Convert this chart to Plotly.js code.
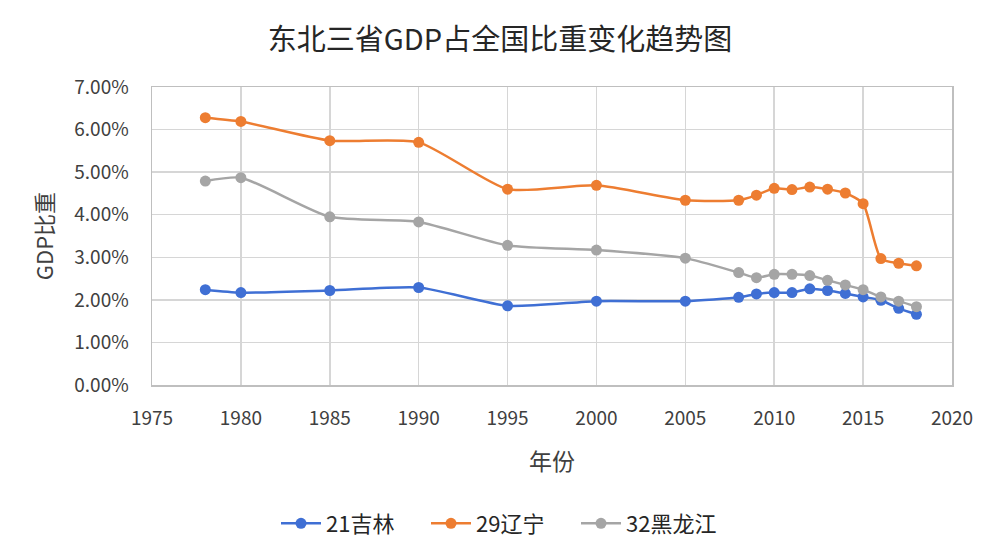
<!DOCTYPE html>
<html>
<head>
<meta charset="utf-8">
<script src="https://cdn.plot.ly/plotly-3.0.1.min.js"></script>
<style>html,body{margin:0;padding:0;background:#fff;}#chart{width:1000px;height:557px;}</style>
</head>
<body>
<div id="chart"></div>
<script>
var years = [1978, 1980, 1985, 1990, 1995, 2000, 2005, 2008, 2009, 2010, 2011, 2012, 2013, 2014, 2015, 2016, 2017, 2018];
var jilin = [2.24, 2.17, 2.22, 2.29, 1.86, 1.97, 1.97, 2.06, 2.14, 2.17, 2.17, 2.26, 2.22, 2.15, 2.07, 1.99, 1.80, 1.66];
var liaoning = [6.28, 6.19, 5.74, 5.70, 4.60, 4.69, 4.34, 4.34, 4.46, 4.62, 4.59, 4.65, 4.60, 4.51, 4.26, 2.97, 2.86, 2.80];
var heilongjiang = [4.79, 4.87, 3.95, 3.83, 3.28, 3.17, 2.98, 2.64, 2.52, 2.60, 2.60, 2.57, 2.46, 2.35, 2.24, 2.07, 1.97, 1.84];
var seriesNames = ['21吉林', '29辽宁', '32黑龙江'];
var colors = ['#3F6FD4', '#ED7D31', '#A5A5A5'];
var xTickVals = [1975, 1980, 1985, 1990, 1995, 2000, 2005, 2010, 2015, 2020];
var yTickVals = [0, 1, 2, 3, 4, 5, 6, 7];
var yTickText = ['0.00%', '1.00%', '2.00%', '3.00%', '4.00%', '5.00%', '6.00%', '7.00%'];

var font = '"Noto Sans CJK SC", "Noto Sans", sans-serif';
var data = [jilin, liaoning, heilongjiang].map(function (vals, i) {
  return {
    x: years, y: vals, name: seriesNames[i], type: 'scatter', mode: 'lines+markers',
    line: {color: colors[i], width: 2.5, shape: 'spline', smoothing: 0.6},
    marker: {color: colors[i], size: 11}
  };
});

var layout = {
  width: 1000, height: 557,
  paper_bgcolor: '#ffffff', plot_bgcolor: '#ffffff',
  margin: {l: 152, r: 48, t: 87, b: 170},
  font: {family: font, color: '#262626', size: 19},
  title: {text: '东北三省GDP占全国比重变化趋势图', x: 0.5, xanchor: 'center', y: 0.928, yanchor: 'middle',
          font: {family: font, size: 29, color: '#262626'}},
  xaxis: {
    range: [1975, 2020], tickvals: xTickVals,
    showgrid: true, gridcolor: '#d6d6d6', gridwidth: 1.5,
    showline: true, linecolor: '#bfbfbf', linewidth: 1.5, mirror: true,
    zeroline: false, ticks: 'outside', ticklen: 16, tickcolor: 'rgba(0,0,0,0)',
    tickfont: {size: 19, color: '#404040'},
    title: {text: '年份', font: {size: 23, color: '#404040'}, standoff: 24}
  },
  yaxis: {
    range: [0, 7], tickvals: yTickVals, ticktext: yTickText,
    showgrid: true, gridcolor: '#d6d6d6', gridwidth: 1.5,
    showline: true, linecolor: '#bfbfbf', linewidth: 1.5, mirror: true,
    zeroline: false, ticks: 'outside', ticklen: 18, tickcolor: 'rgba(0,0,0,0)',
    tickfont: {size: 19, color: '#404040'},
    title: {text: 'GDP比重', font: {size: 22, color: '#404040'}, standoff: 14}
  },
  legend: {orientation: 'h', x: 0.155, xanchor: 'left', y: -0.465, yanchor: 'middle',
           font: {size: 22, color: '#262626'}, itemwidth: 40, entrywidth: 95, traceorder: 'normal'},
  showlegend: true
};

Plotly.newPlot('chart', data, layout, {displayModeBar: false, staticPlot: true});
</script>
</body>
</html>
